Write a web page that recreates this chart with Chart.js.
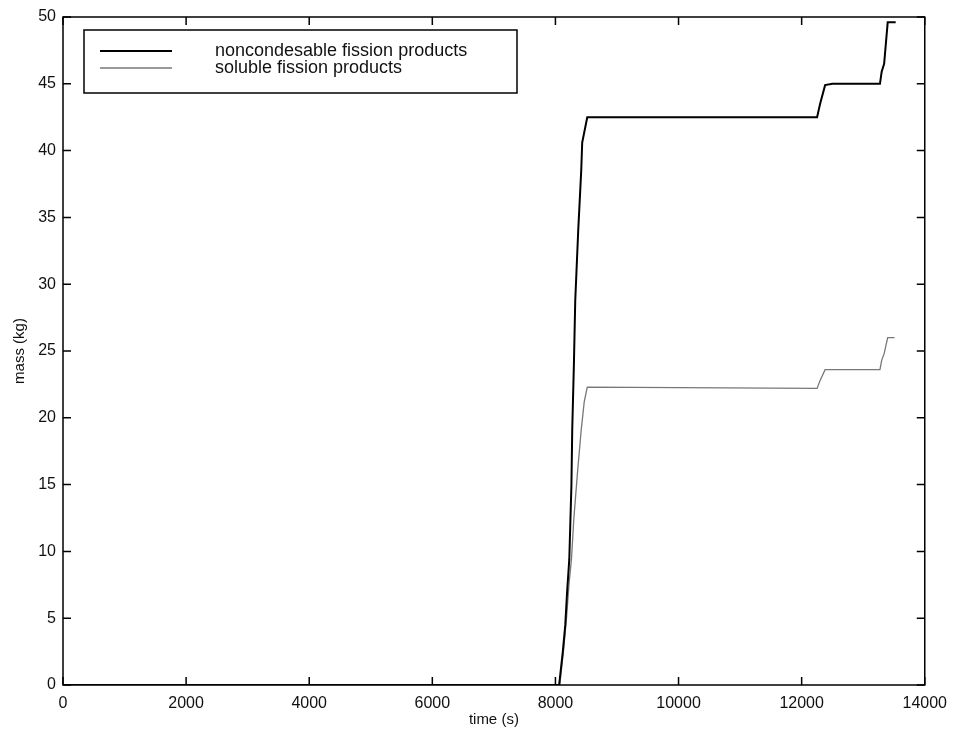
<!DOCTYPE html>
<html>
<head>
<meta charset="utf-8">
<script src="https://cdn.jsdelivr.net/npm/chart.js@4/dist/chart.umd.min.js"></script>
<style>
  html, body { margin: 0; padding: 0; background: #fff; }
  #wrap { width: 956px; height: 736px; }
</style>
</head>
<body>
<div id="wrap"><canvas id="chart" width="956" height="736"></canvas></div>
<script>
'use strict';

// values
var seriesNames = ['noncondesable fission products', 'soluble fission products'];

var nonTime = [0, 8060, 8120, 8160, 8190, 8225, 8260, 8273, 8300, 8322, 8370, 8419, 8435, 8517,
  12251, 12300, 12381, 12500, 13272, 13300, 13340, 13398, 13528];
var nonMass = [0, 0, 2.5, 4.5, 7, 9.4, 15, 19.1, 24, 28.8, 34, 38.5, 40.6, 42.5,
  42.5, 43.5, 44.9, 45.0, 45.0, 45.9, 46.5, 49.6, 49.6];

var solTime = [0, 8070, 8130, 8180, 8220, 8260, 8300, 8360, 8419, 8468, 8517,
  12251, 12300, 12381, 12500, 13272, 13300, 13340, 13398, 13510];
var solMass = [0, 0, 2.5, 5, 7.5, 9.4, 12.5, 16, 19.1, 21.2, 22.3,
  22.2, 22.8, 23.6, 23.6, 23.6, 24.3, 24.8, 26.0, 26.0];

var xTicks = [0, 2000, 4000, 6000, 8000, 10000, 12000, 14000];
var yTicks = [0, 5, 10, 15, 20, 25, 30, 35, 40, 45, 50];

function toPoints(xs, ys) {
  var pts = [];
  for (var i = 0; i < xs.length; i++) {
    pts.push({ x: xs[i], y: ys[i] });
  }
  return pts;
}

var fontFamily = '"Liberation Sans", Arial, Helvetica, sans-serif';

// box + inward ticks on all four sides, like the original plot
var boxTicks = {
  id: 'boxTicks',
  afterDraw: function(chart) {
    var ctx = chart.ctx;
    var a = chart.chartArea;
    var xs = chart.scales.x;
    var ys = chart.scales.y;
    ctx.save();
    ctx.strokeStyle = '#000';
    ctx.lineWidth = 1.5;
    ctx.strokeRect(a.left, a.top, a.right - a.left, a.bottom - a.top);
    ctx.beginPath();
    xTicks.forEach(function(v) {
      var px = xs.getPixelForValue(v);
      ctx.moveTo(px, a.bottom); ctx.lineTo(px, a.bottom - 8);
      ctx.moveTo(px, a.top); ctx.lineTo(px, a.top + 8);
    });
    yTicks.forEach(function(v) {
      var py = ys.getPixelForValue(v);
      ctx.moveTo(a.left, py); ctx.lineTo(a.left + 8, py);
      ctx.moveTo(a.right, py); ctx.lineTo(a.right - 8, py);
    });
    ctx.stroke();

    // legend box inside the plot
    var lx = 84, ly = 30, lw = 433, lh = 63;
    ctx.fillStyle = '#fff';
    ctx.fillRect(lx, ly, lw, lh);
    ctx.lineWidth = 1.5;
    ctx.strokeRect(lx, ly, lw, lh);
    ctx.font = '18px ' + fontFamily;
    ctx.textBaseline = 'middle';
    ctx.textAlign = 'left';
    for (var i = 0; i < seriesNames.length; i++) {
      var ds = chart.data.datasets[i];
      var yy = ly + 21 + i * 17;
      ctx.strokeStyle = ds.borderColor;
      ctx.lineWidth = ds.borderWidth;
      ctx.beginPath();
      ctx.moveTo(100, yy); ctx.lineTo(172, yy);
      ctx.stroke();
      ctx.fillStyle = '#111';
      ctx.fillText(seriesNames[i], 215, yy);
    }
    ctx.restore();
  }
};

var ctx = document.getElementById('chart').getContext('2d');
var chart = new Chart(ctx, {
  type: 'line',
  data: {
    datasets: [{
      label: seriesNames[0],
      data: toPoints(nonTime, nonMass),
      borderColor: '#000',
      borderWidth: 2,
      pointRadius: 0,
      tension: 0
    }, {
      label: seriesNames[1],
      data: toPoints(solTime, solMass),
      borderColor: '#777',
      borderWidth: 1.3,
      pointRadius: 0,
      tension: 0
    }]
  },
  options: {
    responsive: false,
    animation: false,
    layout: { padding: { top: 17, right: 26, left: 0, bottom: 0 } },
    plugins: {
      legend: { display: false },
      tooltip: { enabled: false }
    },
    scales: {
      x: {
        type: 'linear',
        min: 0,
        max: 14000,
        afterBuildTicks: function(scale) {
          scale.ticks = xTicks.map(function(v) { return { value: v }; });
        },
        afterFit: function(scale) { scale.height = 51; },
        grid: { display: false, drawTicks: false },
        border: { display: false },
        ticks: {
          padding: 9,
          color: '#111',
          font: { family: fontFamily, size: 16 },
          maxRotation: 0,
          callback: function(v) { return String(v); }
        },
        title: {
          display: true,
          text: 'time (s)',
          color: '#111',
          padding: { top: 0, bottom: 7 },
          font: { family: fontFamily, size: 15 }
        }
      },
      y: {
        min: 0,
        max: 50,
        afterBuildTicks: function(scale) {
          scale.ticks = yTicks.map(function(v) { return { value: v }; });
        },
        afterFit: function(scale) { scale.width = 63; },
        grid: { display: false, drawTicks: false },
        border: { display: false },
        ticks: {
          padding: 7,
          color: '#111',
          font: { family: fontFamily, size: 16 },
          callback: function(v) { return String(v); }
        },
        title: {
          display: true,
          text: 'mass (kg)',
          color: '#111',
          padding: { top: 11, bottom: 0 },
          font: { family: fontFamily, size: 15 }
        }
      }
    }
  },
  plugins: [boxTicks]
});
</script>
</body>
</html>
